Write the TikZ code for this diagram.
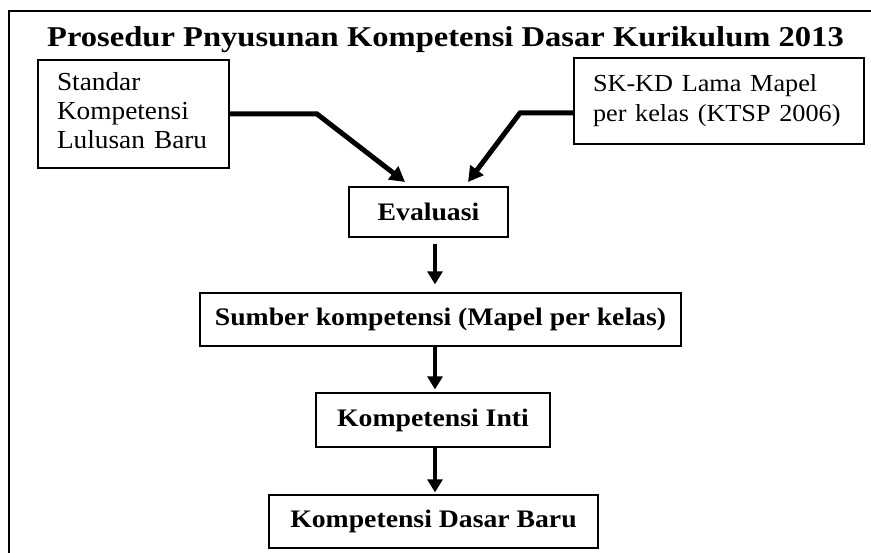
\documentclass[tikz,border=0pt]{standalone}
\usepackage{fontspec}
\setmainfont{Liberation Serif}
\usetikzlibrary{arrows.meta}
\newcommand{\wideb}[1]{\scalebox{1.1}[1]{#1}}
\begin{document}
\begin{tikzpicture}[x=1pt,y=-1pt,
  boxnode/.style={draw=black, line width=1.3pt, inner sep=0pt, fill=white},
  lefttxt/.style={font=\fontsize{26}{29}\selectfont},
  righttxt/.style={font=\fontsize{24.5}{30}\selectfont},
  boldtxt/.style={font=\fontsize{25.2}{30}\selectfont\bfseries},
  conn/.style={line width=5pt, -{Triangle[length=15pt,width=16pt]}},
  varr/.style={line width=4.5pt, -{Triangle[length=13pt,width=15pt]}}]
\useasboundingbox (0,0) rectangle (871,553);
\fill[white] (0,0) rectangle (871,553);
% outer frame (cut at right and bottom)
\draw[line width=1.3pt] (871,11) -- (9,11) -- (9,553);
% title
\node[anchor=base, inner sep=0pt, font=\fontsize{28.7}{32}\selectfont\bfseries] (title) at (445.5,47) {\scalebox{1.135}[1]{Prosedur Pnyusunan Kompetensi Dasar Kurikulum 2013}};
% boxes
\node[boxnode, lefttxt, minimum width=191pt, minimum height=108pt, align=left, text width=153pt] (L) at (133.5,114) {\raisebox{-1pt}{\scalebox{1.05}[1]{\begin{tabular}{@{}l@{}}Standar\\Kompetensi\\Lulusan Baru\end{tabular}}}};
\node[boxnode, righttxt, minimum width=290pt, minimum height=86pt, align=left, text width=252pt] (R) at (719,101) {\raisebox{4pt}{\scalebox{1.07}[1]{\begin{tabular}{@{}l@{}}SK-KD Lama Mapel\\per kelas (KTSP 2006)\end{tabular}}}};
\node[boxnode, boldtxt, minimum width=159pt, minimum height=50pt] (E) at (428.5,212) {\wideb{Evaluasi}};
\node[boxnode, boldtxt, minimum width=481pt, minimum height=53pt] (S) at (440.5,319.5) {\wideb{Sumber kompetensi (Mapel per kelas)}};
\node[boxnode, boldtxt, minimum width=234pt, minimum height=54pt] (KI) at (433,420) {\wideb{Kompetensi Inti}};
\node[boxnode, boldtxt, minimum width=329pt, minimum height=53pt] (KD) at (433.5,521.5) {\wideb{Kompetensi Dasar Baru}};
% connector points
\coordinate (lb) at (317,114);
\coordinate (lt) at (405,182);
\coordinate (rb) at (520,113);
\coordinate (rt) at (468,182);
\coordinate (ax) at (435,0);
\draw[conn] (L.east) -- (lb) -- (lt);
\draw[conn] (R.west |- rb) -- (rb) -- (rt);
\draw[varr, shorten <=6pt, shorten >=8pt] (E.south -| ax) -- (S.north -| ax);
\draw[varr, shorten >=3pt] (S.south -| ax) -- (KI.north -| ax);
\draw[varr, shorten >=2pt] (KI.south -| ax) -- (KD.north -| ax);
\end{tikzpicture}
\end{document}
